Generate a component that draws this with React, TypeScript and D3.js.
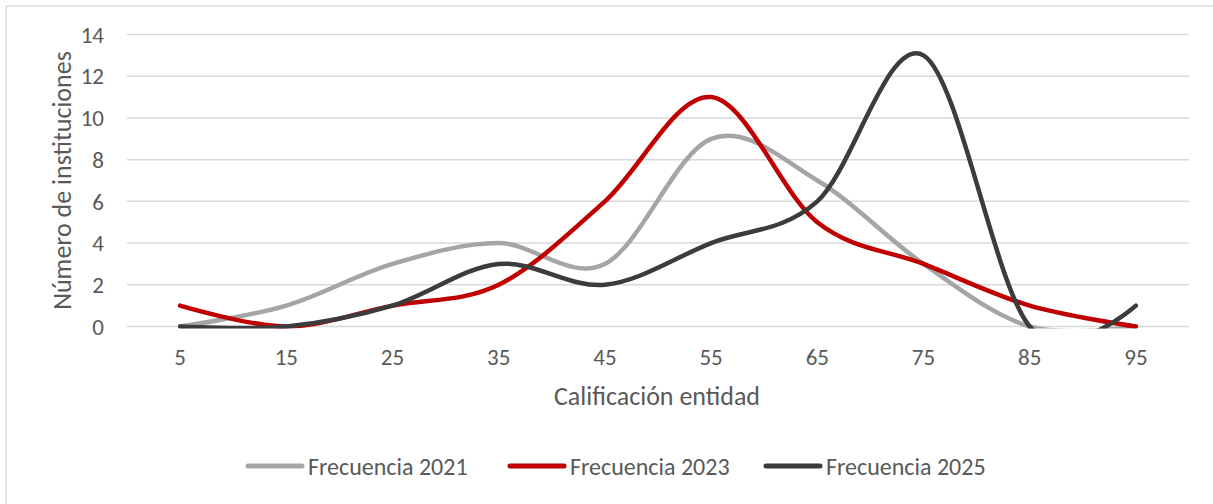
import React from "react";
import * as d3 from "d3";

const categories = ["5", "15", "25", "35", "45", "55", "65", "75", "85", "95"];
const freq2021 = [0, 1, 3, 4, 3, 9, 7, 3, 0, 0];
const freq2023 = [1, 0, 1, 2, 6, 11, 5, 3, 1, 0];
const freq2025 = [0, 0, 1, 3, 2, 4, 6, 13, 0, 1];
const yTicks = [0, 2, 4, 6, 8, 10, 12, 14];

const series = [
  { name: "Frecuencia 2021", values: freq2021, color: "#A5A5A5" },
  { name: "Frecuencia 2023", values: freq2023, color: "#C00000" },
  { name: "Frecuencia 2025", values: freq2025, color: "#3C3C3C" },
];

const W = 1213;
const H = 504;
const plot = { left: 127, right: 1189, top: 34.5, bottom: 326.5 };
const font = "Calibri, Carlito, Lato, 'Open Sans', sans-serif";
const textColor = "#595959";

export default function App() {
  const x = d3
    .scaleBand<string>()
    .domain(categories)
    .range([plot.left, plot.right])
    .padding(0);
  const y = d3.scaleLinear().domain([0, 14]).range([plot.bottom, plot.top]);
  const cx = (c: string) => (x(c) as number) + x.bandwidth() / 2;

  const line = d3
    .line<number>()
    .x((_, i) => cx(categories[i]))
    .y((d) => y(d))
    .curve(d3.curveCardinal.tension(0));

  // legend swatch start positions
  const legendX = [248, 510, 766];

  return (
    <svg
      width={W}
      height={H}
      style={{ position: "absolute", left: 0, top: 0, display: "block" }}
    >
      <rect x={0} y={0} width={W} height={H} fill="#fff" />
      <rect
        x={6}
        y={6}
        width={W + 10}
        height={H + 10}
        fill="none"
        stroke="#DDDDDD"
        strokeWidth={1.5}
      />
      <defs>
        <clipPath id="plotClip">
          <rect x={0} y={0} width={W} height={plot.bottom + 2} />
        </clipPath>
      </defs>
      {yTicks.map((t) => (
        <g key={t}>
          <line
            x1={plot.left}
            x2={plot.right}
            y1={y(t)}
            y2={y(t)}
            stroke="#D9D9D9"
            strokeWidth={1.5}
          />
          <text
            x={104}
            y={y(t)}
            dy="0.36em"
            textAnchor="end"
            fontFamily={font}
            fontSize={23}
            fill={textColor}
          >
            {t}
          </text>
        </g>
      ))}
      {categories.map((c) => (
        <text
          key={c}
          x={cx(c)}
          y={357}
          dy="0.36em"
          textAnchor="middle"
          fontFamily={font}
          fontSize={23}
          fill={textColor}
        >
          {c}
        </text>
      ))}
      <text
        x={657}
        y={396}
        dy="0.36em"
        textAnchor="middle"
        fontFamily={font}
        fontSize={26}
        fill={textColor}
      >
        Calificación entidad
      </text>
      <text
        transform={`translate(62,${(plot.top + plot.bottom) / 2}) rotate(-90)`}
        dy="0.36em"
        textAnchor="middle"
        fontFamily={font}
        fontSize={26}
        fill={textColor}
      >
        Número de instituciones
      </text>
      <g clipPath="url(#plotClip)">
        {series.map((s) => (
          <path
            key={s.name}
            d={line(s.values) || ""}
            fill="none"
            stroke={s.color}
            strokeWidth={4.5}
            strokeLinecap="round"
            strokeLinejoin="round"
          />
        ))}
      </g>
      {series.map((s, i) => (
        <g key={s.name} transform={`translate(${legendX[i]},466)`}>
          <line
            x1={0}
            x2={54}
            y1={0}
            y2={0}
            stroke={s.color}
            strokeWidth={5}
            strokeLinecap="round"
          />
          <text
            x={60}
            y={0}
            dy="0.36em"
            fontFamily={font}
            fontSize={24}
            fill={textColor}
          >
            {s.name}
          </text>
        </g>
      ))}
    </svg>
  );
}
